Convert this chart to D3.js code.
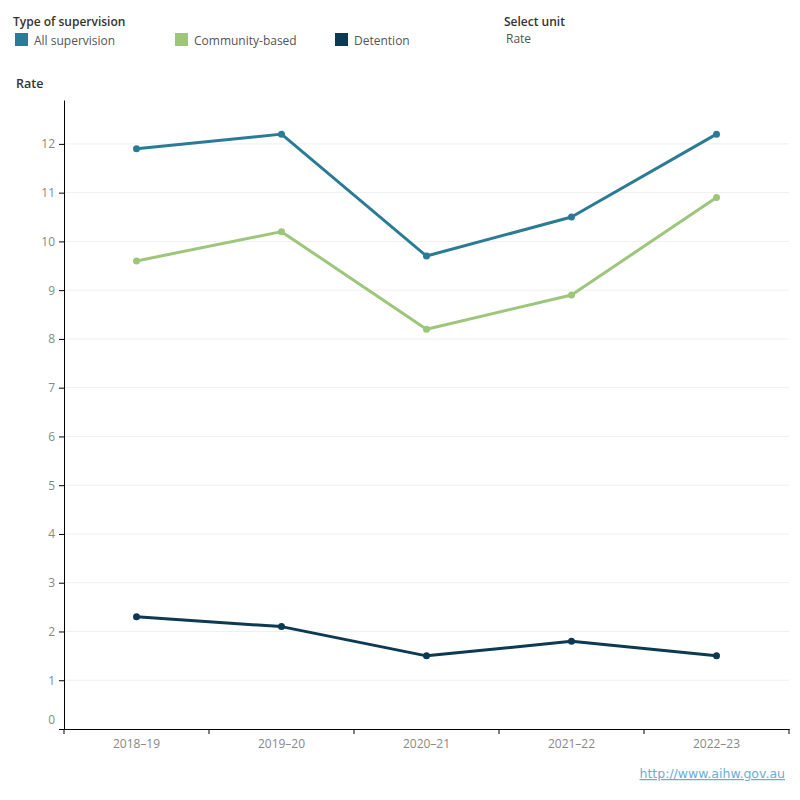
<!DOCTYPE html>
<html>
<head>
<meta charset="utf-8">
<script src="https://cdn.jsdelivr.net/npm/d3@7"></script>
<style>
  body { margin: 0; background: #fff; }
  svg { display: block; font-family: "Open Sans", "Noto Sans", sans-serif; }
</style>
</head>
<body>
<div id="chart"></div>
<script>
var years = ["2018–19", "2019–20", "2020–21", "2021–22", "2022–23"];
var seriesNames = ["All supervision", "Community-based", "Detention"];
var allSupervision = [11.9, 12.2, 9.7, 10.5, 12.2];
var communityBased = [9.6, 10.2, 8.2, 8.9, 10.9];
var detention = [2.3, 2.1, 1.5, 1.8, 1.5];
var yTicks = [0, 1, 2, 3, 4, 5, 6, 7, 8, 9, 10, 11, 12];

var colors = ["#2a7b96", "#9dc67a", "#0b3a52"];
var series = [allSupervision, communityBased, detention];

var W = 800, H = 800;
var svg = d3.select("#chart").append("svg").attr("width", W).attr("height", H);

// legend
svg.append("text").attr("x", 13).attr("y", 26).attr("font-size", 12).attr("font-weight", 600)
  .attr("fill", "#333").text("Type of supervision");
var legX = [15, 175, 335];
seriesNames.forEach(function (n, i) {
  svg.append("rect").attr("x", legX[i]).attr("y", 33).attr("width", 13).attr("height", 13).attr("fill", colors[i]);
  svg.append("text").attr("x", legX[i] + 19).attr("y", 45).attr("font-size", 12).attr("fill", "#555").text(n);
});
svg.append("text").attr("x", 504).attr("y", 26).attr("font-size", 12).attr("font-weight", 600)
  .attr("fill", "#333").text("Select unit");
svg.append("text").attr("x", 506).attr("y", 43).attr("font-size", 12).attr("fill", "#555").text("Rate");
svg.append("text").attr("x", 16).attr("y", 88).attr("font-size", 12.5).attr("font-weight", 600)
  .attr("fill", "#333").text("Rate");

var x = d3.scaleBand().domain(years).range([64, 789]);
var y = d3.scaleLinear().domain([0, 12.9]).range([729, 100]);

// gridlines
svg.append("g").selectAll("line").data(yTicks.filter(function (d) { return d > 0; })).join("line")
  .attr("x1", 65).attr("x2", 789).attr("y1", function (d) { return y(d); }).attr("y2", function (d) { return y(d); })
  .attr("stroke", "#efefef").attr("stroke-width", 1);

// y axis
var ya = svg.append("g").attr("transform", "translate(64,0)")
  .call(d3.axisLeft(y).tickValues(yTicks).tickSize(5).tickSizeOuter(0).tickPadding(4));
ya.select(".domain").attr("stroke", "#000");
ya.selectAll(".tick line").attr("stroke", "#000");
ya.selectAll(".tick text").attr("fill", "#888").attr("font-size", 12).attr("font-family", "Open Sans, sans-serif");
ya.selectAll(".tick text").filter(function (d) { return d === 0; }).attr("dy", "-0.45em");

// x axis
var xa = svg.append("g").attr("transform", "translate(0,729)")
  .call(d3.axisBottom(x).tickSize(0).tickPadding(10));
xa.select(".domain").attr("stroke", "#000");
xa.selectAll(".tick text").attr("fill", "#888").attr("font-size", 12).attr("font-family", "Open Sans, sans-serif");
xa.selectAll(".bt").data(d3.range(years.length + 1)).join("line")
  .attr("x1", function (d) { return x.range()[0] + d * x.step(); })
  .attr("x2", function (d) { return x.range()[0] + d * x.step(); })
  .attr("y1", 0).attr("y2", 5).attr("stroke", "#000");

// lines
var line = d3.line().x(function (d, i) { return x(years[i]) + x.bandwidth() / 2; }).y(function (d) { return y(d); });
series.forEach(function (s, k) {
  svg.append("path").attr("d", line(s)).attr("fill", "none").attr("stroke", colors[k]).attr("stroke-width", 3)
    .attr("stroke-linejoin", "round");
  svg.append("g").selectAll("circle").data(s).join("circle")
    .attr("cx", function (d, i) { return x(years[i]) + x.bandwidth() / 2; })
    .attr("cy", function (d) { return y(d); }).attr("r", 3.5).attr("fill", colors[k]);
});

// source link
svg.append("text").attr("x", 785).attr("y", 778).attr("text-anchor", "end").attr("font-size", 12.5)
  .attr("fill", "#6aaed6").attr("text-decoration", "underline").attr("font-family", "Verdana, DejaVu Sans, sans-serif")
  .text("http://www.aihw.gov.au");
</script>
</body>
</html>
